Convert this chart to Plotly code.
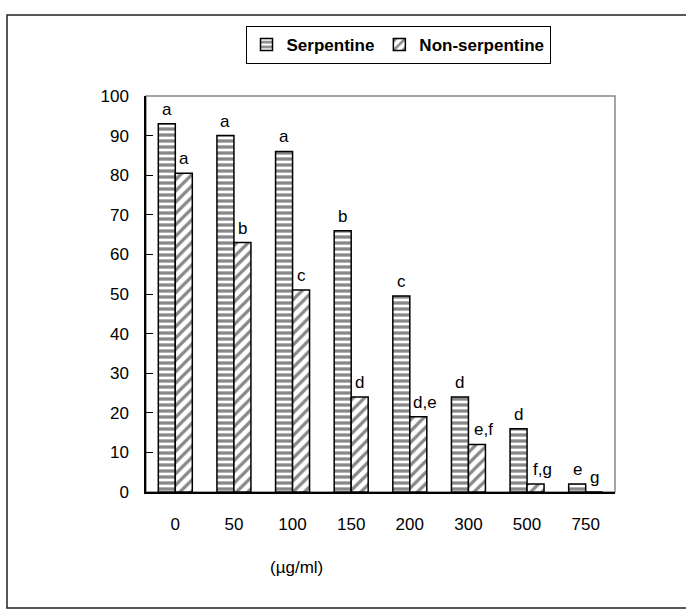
import plotly.graph_objects as go

categories = ["0", "50", "100", "150", "200", "300", "500", "750"]
serpentine = [93, 90, 86, 66, 49.5, 24, 16, 2]
non_serpentine = [80.5, 63, 51, 24, 19, 12, 2, 0]
serp_letters = ["a", "a", "a", "b", "c", "d", "d", "e"]
non_letters = ["a", "b", "c", "d", "d,e", "e,f", "f,g", "g"]
y_ticks = [0, 10, 20, 30, 40, 50, 60, 70, 80, 90, 100]

FONT = "Liberation Sans, Arial, sans-serif"
FS = 17

fig = go.Figure()
fig.add_trace(go.Bar(
    x=categories, y=serpentine, name="Serpentine",
    marker=dict(color="white", line=dict(color="black", width=1.5),
                pattern=dict(shape="-", fgcolor="#111111", bgcolor="white",
                             size=6, solidity=0.55)),
))
fig.add_trace(go.Bar(
    x=categories, y=non_serpentine, name="Non-serpentine",
    marker=dict(color="white", line=dict(color="black", width=1.5),
                pattern=dict(shape="/", fgcolor="#111111", bgcolor="white",
                             size=8, solidity=0.4)),
))

annotations = []
for i, (v, t) in enumerate(zip(serpentine, serp_letters)):
    annotations.append(dict(x=i, y=v, text=t, xref="x", yref="y", showarrow=False,
                            xshift=-8.5, yshift=3, yanchor="bottom",
                            font=dict(family=FONT, size=FS, color="black")))
for i, (v, t) in enumerate(zip(non_serpentine, non_letters)):
    annotations.append(dict(x=i, y=v, text=t, xref="x", yref="y", showarrow=False,
                            xshift=8.5 + (7 if "," in t else 0), yshift=3, yanchor="bottom",
                            font=dict(family=FONT, size=FS, color="black")))
annotations.append(dict(x=(296 - 146) / 469, y=(492 - 567) / 396, xref="paper", yref="paper",
                        text="(µg/ml)", showarrow=False, xanchor="center", yanchor="middle",
                        font=dict(family=FONT, size=FS, color="black")))

fig.update_layout(
    width=686, height=613,
    margin=dict(l=146, r=71, t=96, b=121),
    paper_bgcolor="white", plot_bgcolor="white",
    barmode="group", bargap=0.42, bargroupgap=0,
    font=dict(family=FONT, size=FS, color="black"),
    showlegend=True,
    legend=dict(orientation="h", x=(398 - 146) / 469, y=(492 - 26) / 396,
                xanchor="center", yanchor="top",
                bordercolor="black", borderwidth=1, bgcolor="white",
                font=dict(family=FONT, size=FS, color="black", weight="bold"),
                itemwidth=30, tracegroupgap=0),
    annotations=annotations,
    shapes=[
        dict(type="rect", xref="paper", yref="paper", x0=0, x1=1, y0=0, y1=1,
             line=dict(color="#888888", width=1.5), layer="below"),
        dict(type="rect", xref="paper", yref="paper",
             x0=(7 - 146) / 469, x1=(700 - 146) / 469,
             y0=(492 - 608) / 396, y1=(492 - 15) / 396,
             line=dict(color="#222222", width=1.5), layer="below"),
    ],
)
fig.update_xaxes(
    type="category", range=[-0.5, len(categories) - 0.5],
    showline=True, linecolor="black", linewidth=1.5,
    ticks="", ticklabelstandoff=16, showgrid=False,
    tickfont=dict(family=FONT, size=FS, color="black"),
)
fig.update_yaxes(
    range=[0, 100], tickvals=y_ticks, showline=True, linecolor="black", linewidth=1.5,
    ticks="inside", ticklen=7, tickcolor="black", tickwidth=1,
    ticklabelstandoff=12, showgrid=False, zeroline=False,
    tickfont=dict(family=FONT, size=FS, color="black"),
)

fig.write_html("out.html")
